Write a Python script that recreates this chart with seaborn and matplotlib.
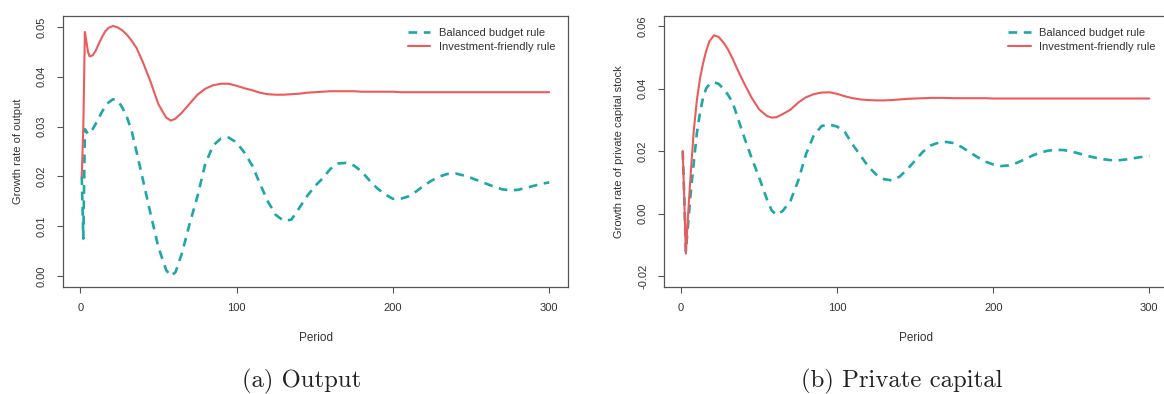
import numpy as np
import pandas as pd
import matplotlib
matplotlib.use("Agg")
import matplotlib.pyplot as plt
import seaborn as sns

# ---------------- data ----------------
period = [1, 2, 3, 4, 5, 6, 8, 10, 12, 14, 16, 18, 21, 24, 27, 30, 33, 36, 40,
          45, 50, 55, 58, 61, 65, 70, 75, 80, 85, 90, 95, 100, 105, 110, 115,
          120, 125, 130, 135, 140, 145, 150, 155, 160, 165, 170, 175, 180, 185,
          190, 195, 200, 205, 210, 215, 220, 225, 230, 235, 240, 245, 250, 255,
          260, 265, 270, 275, 280, 285, 290, 295, 300]

# (a) growth rate of output
output_balanced = [
    0.0200, 0.0075, 0.0295, 0.0290, 0.0285, 0.0287, 0.0295, 0.0306, 0.0318,
    0.0330, 0.0340, 0.0348, 0.0355, 0.0352, 0.0338, 0.0318, 0.0290, 0.0250,
    0.0195, 0.0125, 0.0058, 0.0012, 0.0000, 0.0008, 0.0045, 0.0105, 0.0160,
    0.0225, 0.0262, 0.0276, 0.0278, 0.0268, 0.0248, 0.0222, 0.0185, 0.0150,
    0.0123, 0.0111, 0.0113, 0.0136, 0.0160, 0.0180, 0.0196, 0.0215, 0.0226,
    0.0227, 0.0222, 0.0210, 0.0192, 0.0176, 0.0164, 0.0155, 0.0155, 0.0160,
    0.0170, 0.0182, 0.0192, 0.0200, 0.0205, 0.0206, 0.0202, 0.0197, 0.0191,
    0.0185, 0.0179, 0.0174, 0.0172, 0.0173, 0.0177, 0.0181, 0.0185, 0.0188]
output_invest = [
    0.0200, 0.0300, 0.0490, 0.0470, 0.0450, 0.0441, 0.0443, 0.0453, 0.0467,
    0.0480, 0.0491, 0.0498, 0.0502, 0.0499, 0.0493, 0.0484, 0.0472, 0.0458,
    0.0430, 0.0390, 0.0345, 0.0318, 0.0312, 0.0316, 0.0328, 0.0346, 0.0364,
    0.0376, 0.0383, 0.0386, 0.0386, 0.0382, 0.0377, 0.0373, 0.0368, 0.0365,
    0.0364, 0.0364, 0.0365, 0.0366, 0.0368, 0.0369, 0.0370, 0.0371, 0.0371,
    0.0371, 0.0371, 0.0370, 0.0370, 0.0370, 0.0370, 0.0370, 0.0369, 0.0369,
    0.0369, 0.0369, 0.0369, 0.0369, 0.0369, 0.0369, 0.0369, 0.0369, 0.0369,
    0.0369, 0.0369, 0.0369, 0.0369, 0.0369, 0.0369, 0.0369, 0.0369, 0.0369]

# (b) growth rate of private capital stock
capital_balanced = [
    0.0200, 0.0050, -0.0120, -0.0060, 0.0000, 0.0060, 0.0160, 0.0255, 0.0320,
    0.0370, 0.0400, 0.0413, 0.0420, 0.0415, 0.0400, 0.0380, 0.0355, 0.0310,
    0.0250, 0.0180, 0.0115, 0.0045, 0.0010, -0.0004, 0.0008, 0.0040, 0.0105,
    0.0190, 0.0250, 0.0280, 0.0285, 0.0278, 0.0260, 0.0220, 0.0185, 0.0150,
    0.0125, 0.0110, 0.0106, 0.0118, 0.0142, 0.0170, 0.0198, 0.0218, 0.0227,
    0.0229, 0.0225, 0.0212, 0.0196, 0.0180, 0.0166, 0.0157, 0.0152, 0.0154,
    0.0162, 0.0173, 0.0185, 0.0195, 0.0201, 0.0204, 0.0203, 0.0199, 0.0192,
    0.0185, 0.0179, 0.0174, 0.0171, 0.0170, 0.0173, 0.0177, 0.0181, 0.0184]
capital_invest = [
    0.0200, 0.0045, -0.0128, -0.0040, 0.0040, 0.0120, 0.0260, 0.0360, 0.0430,
    0.0480, 0.0520, 0.0550, 0.0570, 0.0565, 0.0548, 0.0525, 0.0495, 0.0462,
    0.0420, 0.0372, 0.0333, 0.0312, 0.0307, 0.0308, 0.0318, 0.0332, 0.0355,
    0.0372, 0.0382, 0.0387, 0.0388, 0.0383, 0.0375, 0.0369, 0.0365, 0.0363,
    0.0362, 0.0362, 0.0363, 0.0365, 0.0367, 0.0368, 0.0369, 0.0370, 0.0370,
    0.0370, 0.0369, 0.0369, 0.0369, 0.0369, 0.0369, 0.0368, 0.0368, 0.0368,
    0.0368, 0.0368, 0.0368, 0.0368, 0.0368, 0.0368, 0.0368, 0.0368, 0.0368,
    0.0368, 0.0368, 0.0368, 0.0368, 0.0368, 0.0368, 0.0368, 0.0368, 0.0368]

rule_names = ["Balanced budget rule", "Investment-friendly rule"]
x_ticks = [0, 100, 200, 300]
y_ticks_a = [0.00, 0.01, 0.02, 0.03, 0.04, 0.05]
y_ticks_b = [-0.02, 0.00, 0.02, 0.04, 0.06]

# ---------------- styling ----------------
sns.set_theme(style="white")
plt.rcParams["font.family"] = ["Liberation Sans", "DejaVu Sans"]

TEAL = "#1fa6a6"
RED = "#ec5b5b"
FRAME = "#555555"
TEXT = "#333333"

fig = plt.figure(figsize=(11.64, 3.94), dpi=100)
W, H = 1164, 394


def px_axes(left, top, right, bottom):
    return fig.add_axes([left / W, 1 - bottom / H, (right - left) / W,
                         (bottom - top) / H])


ax_a = px_axes(63, 16, 568, 287)
ax_b = px_axes(664, 16, 1168, 287)


def draw_panel(ax, balanced, invest, ylim, yticks, ylabel):
    df = pd.DataFrame({
        "Period": period * 2,
        "value": balanced + invest,
        "rule": [rule_names[0]] * len(period) + [rule_names[1]] * len(period),
    })
    sns.lineplot(data=df[df.rule == rule_names[0]], x="Period", y="value",
                 ax=ax, color=TEAL, lw=1.9, estimator=None,
                 label=rule_names[0])
    ax.lines[-1].set_linestyle((0, (3.3, 2.5)))
    ax.lines[-1].set_dash_capstyle("butt")
    sns.lineplot(data=df[df.rule == rule_names[1]], x="Period", y="value",
                 ax=ax, color=RED, lw=1.5, estimator=None,
                 label=rule_names[1])

    ax.set_xlim(-11, 312)
    ax.set_ylim(*ylim)
    ax.set_xticks(x_ticks)
    ax.set_xticklabels([str(t) for t in x_ticks])
    ax.set_yticks(yticks)
    ax.set_yticklabels([f"{v:.2f}" for v in yticks], rotation=90,
                       va="center")
    ax.tick_params(axis="both", direction="out", length=4.5, width=0.8,
                   color=FRAME, labelsize=8, labelcolor=TEXT, pad=7,
                   bottom=True, left=True)
    for s in ax.spines.values():
        s.set_color(FRAME)
        s.set_linewidth(0.9)
    ax.set_xlabel("Period", fontsize=8.5, color=TEXT, labelpad=14)
    ax.set_ylabel(ylabel, fontsize=8, color=TEXT, labelpad=10)
    ax.grid(False)

    leg = ax.legend(loc="upper right", bbox_to_anchor=(0.976, 0.955),
                    frameon=True, fontsize=8, handlelength=2.0,
                    handletextpad=0.8, labelspacing=0.35, borderpad=0.0,
                    borderaxespad=0.0, fancybox=False)
    leg.get_frame().set_facecolor("white")
    leg.get_frame().set_edgecolor("none")
    for t in leg.get_texts():
        t.set_color(TEXT)


draw_panel(ax_a, output_balanced, output_invest, (-0.0022, 0.0522),
           y_ticks_a, "Growth rate of output")
draw_panel(ax_b, capital_balanced, capital_invest, (-0.0235, 0.0632),
           y_ticks_b, "Growth rate of private capital stock")

# sub-figure captions
fig.text(302 / W, 1 - 381 / H, "(a) Output", family="cmr10", fontsize=17.8,
         ha="center", va="center", color="#222222")
fig.text(902 / W, 1 - 381 / H, "(b) Private capital", family="cmr10",
         fontsize=17.8, ha="center", va="center", color="#222222")

fig.savefig("out.png", dpi=100)
